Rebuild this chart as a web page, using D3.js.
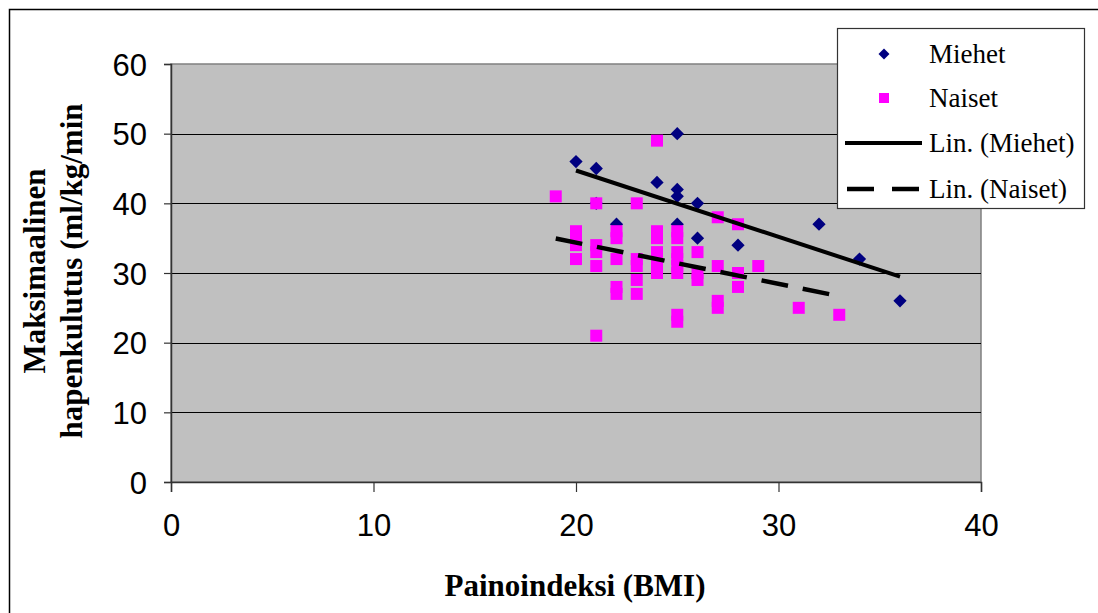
<!DOCTYPE html>
<html><head><meta charset="utf-8">
<script src="https://cdn.jsdelivr.net/npm/d3@7"></script>
<style>body{margin:0;background:#fff}</style>
</head><body>
<svg id="c" width="1098" height="613"></svg>
<script>
const xTicks = [0, 10, 20, 30, 40];
const yTicks = [0, 10, 20, 30, 40, 50, 60];
const menBMI = [20, 21, 21, 22, 24, 25, 25, 25, 25, 26, 26, 28, 32, 34, 36];
const menVO2 = [46, 45, 40, 37, 43, 50, 42, 41, 37, 40, 35, 34, 37, 32, 26];
const womenBMI = [19, 20, 20, 20, 20, 21, 21, 21, 21, 21, 22, 22, 22, 22, 22, 23, 23, 23, 23, 23,
  24, 24, 24, 24, 24, 24, 24, 25, 25, 25, 25, 25, 25, 25, 25, 26, 26, 26, 27, 27, 27, 27, 28, 28, 28, 29, 31, 33];
const womenVO2 = [41, 36, 35, 34, 32, 40, 34, 33, 31, 21, 36, 35, 32, 28, 27, 40, 32, 31, 29, 27,
  49, 36, 35, 33, 32, 31, 30, 36, 35, 33, 32, 31, 30, 24, 23, 33, 30, 29, 38, 31, 26, 25, 37, 30, 28, 31, 25, 24];
const legendLabels = ["Miehet", "Naiset", "Lin. (Miehet)", "Lin. (Naiset)"];
const xTitle = "Painoindeksi (BMI)";
const yTitleLines = ["Maksimaalinen", "hapenkulutus (ml/kg/min"];

const svg = d3.select("#c");
const L = 171, R = 981, T = 64, B = 482;
const x = d3.scaleLinear().domain([0, 40]).range([L, R]);
const y = d3.scaleLinear().domain([0, 60]).range([B, T]);

// outer chart border (extends beyond the frame on right/bottom)
svg.append("rect").attr("x", 9.5).attr("y", 9.5).attr("width", 1200).attr("height", 700)
  .attr("fill", "#fff").attr("stroke", "#000").attr("stroke-width", 1.5);

// plot area
svg.append("rect").attr("x", L).attr("y", T).attr("width", R - L).attr("height", B - T)
  .attr("fill", "#C0C0C0").attr("stroke", "#808080").attr("stroke-width", 1.5);

// gridlines
svg.append("g").selectAll("line").data(yTicks.filter(d => d > 0 && d < 60)).join("line")
  .attr("x1", L).attr("x2", R).attr("y1", d => Math.round(y(d)) + 0.5).attr("y2", d => Math.round(y(d)) + 0.5)
  .attr("stroke", "#000").attr("stroke-width", 1);

// axes
const yAxis = d3.axisLeft(y).tickValues(yTicks).tickSize(7).tickPadding(17);
const gy = svg.append("g").attr("transform", `translate(${L},0)`).call(yAxis);
const xAxis = d3.axisBottom(x).tickValues(xTicks).tickSize(10).tickPadding(22);
const gx = svg.append("g").attr("transform", `translate(0,${B})`).call(xAxis);
[gx, gy].forEach(g => {
  g.select(".domain").attr("stroke", "#333").attr("stroke-width", 1.5);
  g.selectAll(".tick line").attr("stroke", "#333").attr("stroke-width", 1.2);
  g.selectAll(".tick text").attr("font-family", "Liberation Sans, Arial, sans-serif")
    .attr("font-size", 31).attr("fill", "#000");
});
gy.selectAll(".tick text").attr("dy", "0.36em");
gx.selectAll(".tick text").attr("dy", "0.71em");

// men markers (diamonds = rotated squares)
const diamond = d3.symbol().type(d3.symbolSquare).size(88);
const menData = menBMI.map((b, i) => ({ b, v: menVO2[i] }));
svg.append("g").selectAll("path").data(menData).join("path")
  .attr("d", diamond).attr("transform", d => `translate(${x(d.b)},${y(d.v)}) rotate(45)`)
  .attr("fill", "#000080");

// women markers (squares)
const womenData = womenBMI.map((b, i) => ({ b, v: womenVO2[i] }));
svg.append("g").selectAll("rect").data(womenData).join("rect")
  .attr("x", d => x(d.b) - 6).attr("y", d => y(d.v) - 6).attr("width", 12).attr("height", 12)
  .attr("fill", "#FF00FF");

// linear trendlines
function linfit(xs, ys) {
  const mx = d3.mean(xs), my = d3.mean(ys);
  let sxy = 0, sxx = 0;
  xs.forEach((xi, i) => { sxy += (xi - mx) * (ys[i] - my); sxx += (xi - mx) ** 2; });
  const m = sxy / sxx, c = my - m * mx;
  const x0 = d3.min(xs), x1 = d3.max(xs);
  return [[x0, m * x0 + c], [x1, m * x1 + c]];
}
const line = d3.line().x(d => x(d[0])).y(d => y(d[1]));
svg.append("path").attr("d", line(linfit(menBMI, menVO2))).attr("stroke", "#000")
  .attr("stroke-width", 4).attr("fill", "none");
svg.append("path").attr("d", line(linfit(womenBMI, womenVO2))).attr("stroke", "#000")
  .attr("stroke-width", 4.5).attr("stroke-dasharray", "27,15").attr("fill", "none");

// axis titles
svg.append("text").attr("x", 575).attr("y", 596).attr("text-anchor", "middle")
  .attr("font-family", "Liberation Serif, Times New Roman, serif").attr("font-weight", "bold")
  .attr("font-size", 31).text(xTitle);
const yt = svg.append("text").attr("transform", "translate(0,271) rotate(-90)")
  .attr("text-anchor", "middle").attr("font-family", "Liberation Serif, Times New Roman, serif")
  .attr("font-weight", "bold").attr("font-size", 31);
yt.selectAll("tspan").data(yTitleLines).join("tspan")
  .attr("x", 0).attr("y", (d, i) => 45 + i * 37).text(d => d);

// legend
const lg = svg.append("g");
lg.append("rect").attr("x", 837.5).attr("y", 28.5).attr("width", 247).attr("height", 180)
  .attr("fill", "#fff").attr("stroke", "#333").attr("stroke-width", 1.2);
const rowY = [54, 98, 143, 189];
lg.append("path").attr("d", d3.symbol().type(d3.symbolSquare).size(60))
  .attr("transform", `translate(884,${rowY[0]}) rotate(45)`).attr("fill", "#000080");
lg.append("rect").attr("x", 879).attr("y", rowY[1] - 5).attr("width", 10).attr("height", 10).attr("fill", "#FF00FF");
lg.append("line").attr("x1", 845).attr("x2", 922).attr("y1", rowY[2]).attr("y2", rowY[2])
  .attr("stroke", "#000").attr("stroke-width", 4);
lg.append("line").attr("x1", 847).attr("x2", 922).attr("y1", rowY[3]).attr("y2", rowY[3])
  .attr("stroke", "#000").attr("stroke-width", 4.5).attr("stroke-dasharray", "27,18");
lg.selectAll("text.lab").data(legendLabels).join("text").attr("class", "lab")
  .attr("x", 929).attr("y", (d, i) => rowY[i]).attr("dy", "0.35em")
  .attr("font-family", "Liberation Serif, Times New Roman, serif").attr("font-size", 27)
  .text(d => d);
</script>
</body></html>
